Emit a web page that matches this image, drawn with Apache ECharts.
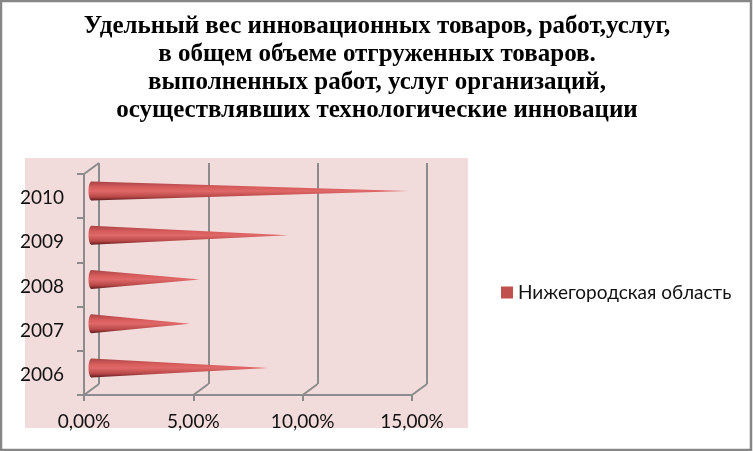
<!DOCTYPE html>
<html>
<head>
<meta charset="utf-8">
<style>
  html, body { margin: 0; padding: 0; background: #fff; }
  #chart { width: 753px; height: 451px; }
</style>
<script src="https://cdn.jsdelivr.net/npm/echarts@6/dist/echarts.min.js"></script>
</head>
<body>
<div id="chart"></div>
<script>
var titleText = 'Удельный вес инновационных товаров, работ,услуг,\nв общем объеме отгруженных товаров.\nвыполненных работ, услуг организаций,\nосуществлявших технологические инновации'
var seriesName = 'Нижегородская область'
var categories = ['2006', '2007', '2008', '2009', '2010']
var values = [8.1, 4.5, 4.95, 9.0, 14.5]
var tickValues = [0, 5, 10, 15]

var chart = echarts.init(document.getElementById('chart'))
var axisGray = '#8c8c8c'
var labelFont = 'Lato'

// конус: тело и основание
function renderCone(params, api) {
  var base = api.coord([0, api.value(1)])
  var tip = api.coord([api.value(0), api.value(1)])
  var r = 9.5
  var fill = new echarts.graphic.LinearGradient(0, 0, 0, 1, [
    { offset: 0, color: '#a84444' },
    { offset: 0.3, color: '#d85c5c' },
    { offset: 0.5, color: '#e06868' },
    { offset: 0.8, color: '#b84848' },
    { offset: 1, color: '#5e1a1c' }
  ])
  return {
    type: 'group',
    children: [
      { type: 'polygon', shape: { points: [[base[0], base[1] - r], tip, [base[0], base[1] + r]] }, style: { fill: fill } },
      { type: 'ellipse', shape: { cx: base[0], cy: base[1], rx: 3, ry: r }, style: { fill: fill } }
    ]
  }
}

// наклонные линии пола и стенки
function renderDepth(params, api) {
  var dx = 15
  var dy = -11
  var box = params.coordSys
  var x = api.coord([api.value(0), 0])[0]
  var bottom = box.y + box.height
  var children = [
    { type: 'line', shape: { x1: x, y1: bottom, x2: x + dx, y2: bottom + dy }, style: { stroke: axisGray, lineWidth: 2 } }
  ]
  if (api.value(0) === 0) {
    children.push({ type: 'line', shape: { x1: x, y1: box.y, x2: x + dx, y2: box.y + dy }, style: { stroke: axisGray, lineWidth: 2 } })
  }
  return { type: 'group', children: children }
}

var hiddenAxis = { axisLine: { show: false }, axisTick: { show: false }, axisLabel: { show: false }, splitLine: { show: false } }

var option = {
  animation: false,
  backgroundColor: '#fff',
  title: {
    text: titleText,
    left: 372,
    top: 8,
    textAlign: 'center',
    textStyle: { fontFamily: 'Liberation Serif', fontWeight: 'bold', fontSize: 25, lineHeight: 28, color: '#000' }
  },
  legend: {
    left: 496,
    top: 278,
    icon: 'rect',
    itemWidth: 12,
    itemHeight: 12,
    itemGap: 0,
    data: [seriesName],
    textStyle: { fontFamily: labelFont, fontSize: 19, color: '#111' }
  },
  graphic: [
    { type: 'rect', z: -10, shape: { x: 25, y: 158, width: 443, height: 270 }, style: { fill: '#f2dcdb' } },
    { type: 'rect', z: 100, shape: { x: 1, y: 1, width: 750, height: 449 }, style: { fill: 'none', stroke: '#868686', lineWidth: 2.5 } }
  ],
  grid: [
    { left: 84, top: 174, width: 328, height: 221 },
    { left: 99, top: 163, width: 328, height: 221 },
    { left: 91.5, top: 169, width: 328, height: 221 },
    { left: 84, top: 176, width: 328, height: 221 }
  ],
  xAxis: [
    {
      gridIndex: 0, type: 'value', min: 0, max: 15, interval: 5,
      axisLine: { show: true, lineStyle: { color: axisGray, width: 2 } },
      axisTick: { show: true, length: 6, lineStyle: { color: axisGray, width: 2 } },
      splitLine: { show: false },
      axisLabel: {
        margin: 17, fontFamily: labelFont, fontSize: 19, color: '#111', showMinLabel: true, showMaxLabel: true,
        formatter: function(v) { return v.toFixed(2).replace('.', ',') + '%' }
      }
    },
    {
      gridIndex: 1, type: 'value', min: 0, max: 15, interval: 5,
      axisLine: { show: false }, axisTick: { show: false }, axisLabel: { show: false },
      splitLine: { show: true, showMinLine: true, showMaxLine: true, lineStyle: { color: axisGray, width: 2 } }
    },
    Object.assign({ gridIndex: 2, type: 'value', min: 0, max: 15, interval: 5 }, hiddenAxis),
    Object.assign({ gridIndex: 3, type: 'value', min: 0, max: 15, interval: 5 }, hiddenAxis)
  ],
  yAxis: [
    {
      gridIndex: 0, type: 'category', data: categories,
      axisLine: { show: true, lineStyle: { color: axisGray, width: 2 } },
      axisTick: { show: true, length: 7, lineStyle: { color: axisGray, width: 2 } },
      axisLabel: { show: false }
    },
    Object.assign({ gridIndex: 1, type: 'category', data: categories }, hiddenAxis),
    Object.assign({ gridIndex: 2, type: 'category', data: categories }, hiddenAxis),
    // подписи годов чуть ниже меток оси
    {
      gridIndex: 3, type: 'category', data: categories,
      axisLine: { show: false }, axisTick: { show: false }, splitLine: { show: false },
      axisLabel: { margin: 20, fontFamily: labelFont, fontSize: 19, color: '#111' }
    }
  ],
  series: [
    {
      type: 'custom',
      xAxisIndex: 0,
      yAxisIndex: 0,
      silent: true,
      clip: false,
      renderItem: renderDepth,
      data: tickValues.map(function(v) { return [v] })
    },
    {
      name: seriesName,
      type: 'custom',
      xAxisIndex: 2,
      yAxisIndex: 2,
      clip: false,
      z: 5,
      itemStyle: { color: '#c0504d' },
      encode: { x: 0, y: 1 },
      renderItem: renderCone,
      data: categories.map(function(c, i) { return [values[i], c] })
    }
  ]
}

chart.setOption(option)
</script>
</body>
</html>
